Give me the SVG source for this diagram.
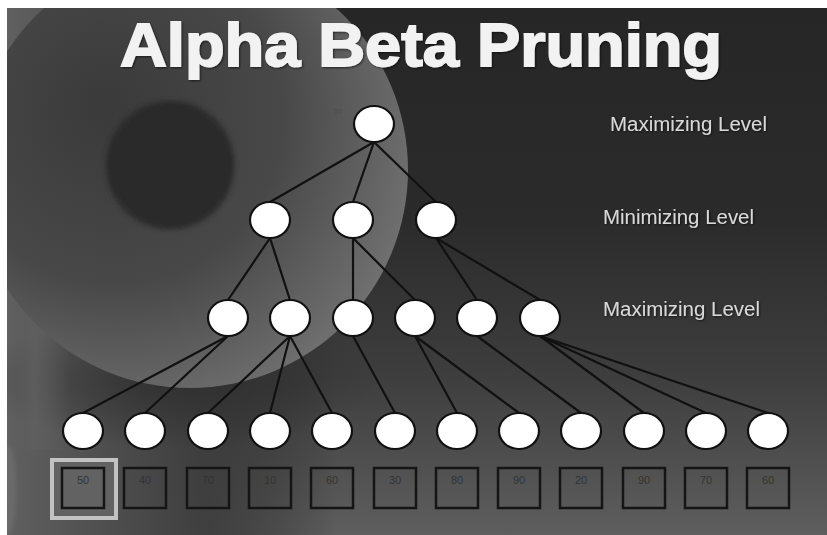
<svg xmlns="http://www.w3.org/2000/svg" width="827" height="535" viewBox="0 0 827 535">
<defs>
<linearGradient id="bgV" x1="0" y1="0" x2="0" y2="1">
<stop offset="0" stop-color="#262626"/>
<stop offset="0.4" stop-color="#2b2b2b"/>
<stop offset="0.7" stop-color="#3e3e3e"/>
<stop offset="1" stop-color="#5e5e5e"/>
</linearGradient>
<linearGradient id="leftH" x1="0" y1="0" x2="1" y2="0">
<stop offset="0" stop-color="#606060" stop-opacity="1"/>
<stop offset="0.6" stop-color="#3c3c3c" stop-opacity="0.9"/>
<stop offset="1" stop-color="#2a2a2a" stop-opacity="0"/>
</linearGradient>
<radialGradient id="sphere" cx="0.35" cy="0.4" r="0.7" fx="0.3" fy="0.35">
<stop offset="0" stop-color="#3a3a3a"/>
<stop offset="0.55" stop-color="#484848"/>
<stop offset="1" stop-color="#727272"/>
</radialGradient>
<radialGradient id="darkSpot" cx="0.5" cy="0.5" r="0.5">
<stop offset="0.85" stop-color="#2a2a2a"/>
<stop offset="1" stop-color="#2f2f2f"/>
</radialGradient>
<radialGradient id="lowerLeft" cx="0.5" cy="0.5" r="0.5">
<stop offset="0" stop-color="#2e2e2e" stop-opacity="0.9"/>
<stop offset="1" stop-color="#2e2e2e" stop-opacity="0"/>
</radialGradient>
<linearGradient id="leftBand" x1="0" y1="0" x2="1" y2="0">
<stop offset="0" stop-color="#5c5c5c" stop-opacity="0"/>
<stop offset="0.4" stop-color="#606060" stop-opacity="0.8"/>
<stop offset="1" stop-color="#5c5c5c" stop-opacity="0"/>
</linearGradient>
<clipPath id="frame"><rect x="7" y="8" width="820" height="527"/></clipPath>
<filter id="shadow" x="-5%" y="-5%" width="110%" height="120%">
<feDropShadow dx="1" dy="1" stdDeviation="0.8" flood-color="#000" flood-opacity="0.6"/>
</filter>
<filter id="soft" x="-20%" y="-20%" width="140%" height="140%">
<feGaussianBlur stdDeviation="2"/>
</filter>
</defs>
<style>
.node{fill:#ffffff;stroke:#111111;stroke-width:2.2}
.edge{stroke:#111111;stroke-width:2.2;fill:none;stroke-linecap:round}
.box{fill:none;stroke:#151515;stroke-width:2.5}
.val{font-family:"Liberation Sans",Arial,sans-serif;font-size:11px;fill:#333333;text-anchor:middle}
.lvl{font-family:"Liberation Sans",Arial,sans-serif;font-size:20px;fill:#d8d8d8}
.title{font-family:"Liberation Sans",Arial,sans-serif;font-size:62px;font-weight:bold;fill:#f2f2f2;stroke:#f2f2f2;stroke-width:1.8}
</style>
<rect width="827" height="535" fill="#ffffff"/>
<g id="background" clip-path="url(#frame)">
<rect x="7" y="8" width="820" height="527" fill="url(#bgV)"/>
<rect x="7" y="8" width="330" height="527" fill="url(#leftH)"/>
<ellipse cx="180" cy="380" rx="200" ry="70" fill="url(#lowerLeft)"/>
<rect x="10" y="250" width="60" height="200" fill="url(#leftBand)"/>
<circle cx="190" cy="170" r="218" fill="url(#sphere)"/>
<circle cx="170" cy="165" r="65" fill="url(#darkSpot)" filter="url(#soft)"/>
<ellipse cx="8" cy="490" rx="8" ry="45" fill="#6a6a6a" filter="url(#soft)"/>
</g>
<g id="title">
<text class="title" x="120" y="66" textLength="602" lengthAdjust="spacingAndGlyphs" filter="url(#shadow)">Alpha Beta Pruning</text>
</g>
<g id="level-labels" filter="url(#shadow)">
<text class="lvl" x="610" y="131" textLength="157" lengthAdjust="spacingAndGlyphs">Maximizing Level</text>
<text class="lvl" x="603" y="224" textLength="151" lengthAdjust="spacingAndGlyphs">Minimizing Level</text>
<text class="lvl" x="603" y="316" textLength="157" lengthAdjust="spacingAndGlyphs">Maximizing Level</text>
</g>
<g id="connectors">
<line class="edge" x1="374" y1="142" x2="270" y2="202"/>
<line class="edge" x1="374" y1="142" x2="353" y2="202"/>
<line class="edge" x1="374" y1="142" x2="436" y2="202"/>
<line class="edge" x1="270" y1="238" x2="228" y2="300"/>
<line class="edge" x1="270" y1="238" x2="290" y2="300"/>
<line class="edge" x1="353" y1="238" x2="353" y2="300"/>
<line class="edge" x1="353" y1="238" x2="415" y2="300"/>
<line class="edge" x1="436" y1="238" x2="477" y2="300"/>
<line class="edge" x1="436" y1="238" x2="540" y2="300"/>
<line class="edge" x1="228" y1="336" x2="83" y2="413"/>
<line class="edge" x1="228" y1="336" x2="145" y2="413"/>
<line class="edge" x1="290" y1="336" x2="208" y2="413"/>
<line class="edge" x1="290" y1="336" x2="270" y2="413"/>
<line class="edge" x1="290" y1="336" x2="332" y2="413"/>
<line class="edge" x1="353" y1="336" x2="395" y2="413"/>
<line class="edge" x1="415" y1="336" x2="457" y2="413"/>
<line class="edge" x1="415" y1="336" x2="519" y2="413"/>
<line class="edge" x1="477" y1="336" x2="581" y2="413"/>
<line class="edge" x1="540" y1="336" x2="644" y2="413"/>
<line class="edge" x1="540" y1="336" x2="706" y2="413"/>
<line class="edge" x1="540" y1="336" x2="768" y2="413"/>
</g>
<g id="root">
<ellipse class="node" cx="374" cy="124" rx="20" ry="18"/>
<text x="338" y="114" font-family="Liberation Sans, Arial, sans-serif" font-size="8" fill="#4e4e4e" text-anchor="middle">50</text>
</g>
<g id="min-1"><ellipse class="node" cx="270" cy="220" rx="20" ry="18"/></g>
<g id="min-2"><ellipse class="node" cx="353" cy="220" rx="20" ry="18"/></g>
<g id="min-3"><ellipse class="node" cx="436" cy="220" rx="20" ry="18"/></g>
<g id="max-1"><ellipse class="node" cx="228" cy="318" rx="20" ry="18"/></g>
<g id="max-2"><ellipse class="node" cx="290" cy="318" rx="20" ry="18"/></g>
<g id="max-3"><ellipse class="node" cx="353" cy="318" rx="20" ry="18"/></g>
<g id="max-4"><ellipse class="node" cx="415" cy="318" rx="20" ry="18"/></g>
<g id="max-5"><ellipse class="node" cx="477" cy="318" rx="20" ry="18"/></g>
<g id="max-6"><ellipse class="node" cx="540" cy="318" rx="20" ry="18"/></g>
<g id="leaf-1"><ellipse class="node" cx="83" cy="431" rx="20" ry="18"/></g>
<g id="leaf-2"><ellipse class="node" cx="145" cy="431" rx="20" ry="18"/></g>
<g id="leaf-3"><ellipse class="node" cx="208" cy="431" rx="20" ry="18"/></g>
<g id="leaf-4"><ellipse class="node" cx="270" cy="431" rx="20" ry="18"/></g>
<g id="leaf-5"><ellipse class="node" cx="332" cy="431" rx="20" ry="18"/></g>
<g id="leaf-6"><ellipse class="node" cx="395" cy="431" rx="20" ry="18"/></g>
<g id="leaf-7"><ellipse class="node" cx="457" cy="431" rx="20" ry="18"/></g>
<g id="leaf-8"><ellipse class="node" cx="519" cy="431" rx="20" ry="18"/></g>
<g id="leaf-9"><ellipse class="node" cx="581" cy="431" rx="20" ry="18"/></g>
<g id="leaf-10"><ellipse class="node" cx="644" cy="431" rx="20" ry="18"/></g>
<g id="leaf-11"><ellipse class="node" cx="706" cy="431" rx="20" ry="18"/></g>
<g id="leaf-12"><ellipse class="node" cx="768" cy="431" rx="20" ry="18"/></g>
<g id="highlight">
<rect x="52" y="460" width="64" height="58" fill="#626262" stroke="#c2c2c2" stroke-width="4"/>
</g>
<g id="box-1"><rect class="box" x="62" y="468" width="42" height="40"/><text class="val" x="83" y="484">50</text></g>
<g id="box-2"><rect class="box" x="124" y="468" width="42" height="40"/><text class="val" x="145" y="484">40</text></g>
<g id="box-3"><rect class="box" x="187" y="468" width="42" height="40"/><text class="val" x="208" y="484">70</text></g>
<g id="box-4"><rect class="box" x="249" y="468" width="42" height="40"/><text class="val" x="270" y="484">10</text></g>
<g id="box-5"><rect class="box" x="311" y="468" width="42" height="40"/><text class="val" x="332" y="484">60</text></g>
<g id="box-6"><rect class="box" x="374" y="468" width="42" height="40"/><text class="val" x="395" y="484">30</text></g>
<g id="box-7"><rect class="box" x="436" y="468" width="42" height="40"/><text class="val" x="457" y="484">80</text></g>
<g id="box-8"><rect class="box" x="498" y="468" width="42" height="40"/><text class="val" x="519" y="484">90</text></g>
<g id="box-9"><rect class="box" x="560" y="468" width="42" height="40"/><text class="val" x="581" y="484">20</text></g>
<g id="box-10"><rect class="box" x="623" y="468" width="42" height="40"/><text class="val" x="644" y="484">90</text></g>
<g id="box-11"><rect class="box" x="685" y="468" width="42" height="40"/><text class="val" x="706" y="484">70</text></g>
<g id="box-12"><rect class="box" x="747" y="468" width="42" height="40"/><text class="val" x="768" y="484">60</text></g>
</svg>
